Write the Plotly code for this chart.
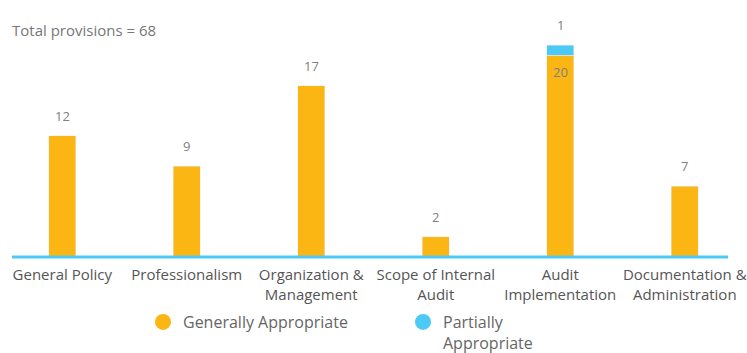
import plotly.graph_objects as go

categories = [
    "General Policy",
    "Professionalism",
    "Organization &<br>Management",
    "Scope of Internal<br>Audit",
    "Audit<br>Implementation",
    "Documentation &<br>Administration",
]
generally = [12, 9, 17, 2, 20, 7]
partially = [None, None, None, None, 1, None]
total_text = "Total provisions = 68"

orange = "#FBB614"
blue = "#4CC9F5"
grey = "#808080"

fig = go.Figure()
fig.add_bar(x=categories, y=generally, marker_color=orange, showlegend=False)
fig.add_bar(x=categories, y=partially, marker_color=blue, showlegend=False)

# legend entries as circles
fig.add_scatter(x=[None], y=[None], mode="markers", name="Generally Appropriate",
                marker=dict(color=orange, size=16, symbol="circle"))
fig.add_scatter(x=[None], y=[None], mode="markers", name="Partially<br>Appropriate",
                marker=dict(color=blue, size=16, symbol="circle"))

# value labels
for cat, g, p in zip(categories, generally, partially):
    if p:
        fig.add_annotation(x=cat, y=g, text=str(g), showarrow=False, yshift=-17,
                           font=dict(size=13, color=grey))
        fig.add_annotation(x=cat, y=g + p, text=str(p), showarrow=False, yshift=20,
                           font=dict(size=13, color=grey))
    else:
        fig.add_annotation(x=cat, y=g, text=str(g), showarrow=False, yshift=20,
                           font=dict(size=13, color=grey))

fig.add_annotation(x=10 / 747, y=1 - 10 / 240, xref="paper", yref="paper", text=total_text,
                   showarrow=False, xanchor="left", yanchor="middle",
                   font=dict(size=15, color="#777777"))

# baseline
fig.add_shape(type="line", xref="paper", yref="y", x0=12 / 747, x1=728 / 747, y0=0, y1=0,
              line=dict(color=blue, width=3), layer="above")

fig.update_layout(
    barmode="stack",
    bargap=0.783,
    width=747,
    height=353,
    margin=dict(l=0, r=0, t=20, b=93),
    plot_bgcolor="#ffffff",
    paper_bgcolor="#ffffff",
    font=dict(family="Open Sans", size=15, color="#555555"),
    xaxis=dict(showgrid=False, showline=False, ticks="", automargin=False,
               ticklabelstandoff=4, tickfont=dict(size=15, color="#555555")),
    yaxis=dict(visible=False, range=[-0.3, 23.5], automargin=False),
    legend=dict(orientation="h", x=143 / 747, xanchor="left", xref="container",
                y=1 - 305 / 353, yanchor="top", yref="container",
                traceorder="normal", font=dict(size=16, color="#666666"),
                entrywidth=215, valign="top"),
)

fig.write_html("out.html", config={"displayModeBar": False},
               post_script="document.body.style.margin='0px';")
